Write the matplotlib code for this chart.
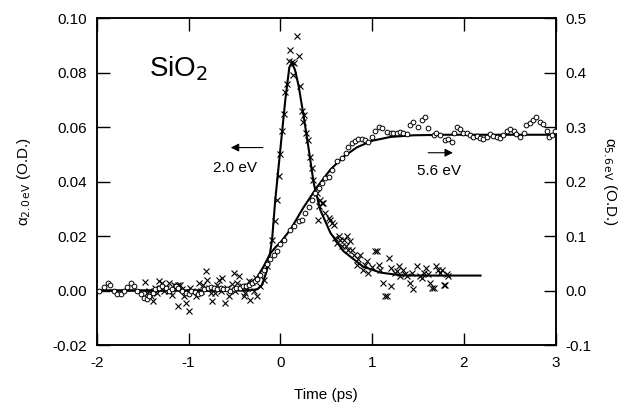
import matplotlib.pyplot as plt

plt.rcParams['font.family'] = ['Liberation Sans', 'DejaVu Sans']

# =========================
# DATA
# =========================

# 2.0 eV data points (crosses), left axis
t_20 = [-1.475, -1.45, -1.43, -1.41, -1.39, -1.36, -1.34, -1.32, -1.29, -1.27,
        -1.25, -1.21, -1.21, -1.18, -1.16, -1.14, -1.12, -1.11, -1.09, -1.07,
        -1.05, -1.03, -1.0, -0.98, -0.96, -0.92, -0.89, -0.86, -0.84, -0.815,
        -0.80, -0.78, -0.76, -0.74, -0.71, -0.69, -0.67, -0.65, -0.63, -0.60,
        -0.58, -0.56, -0.53, -0.51, -0.49, -0.47, -0.45, -0.42, -0.40, -0.38,
        -0.36, -0.345, -0.33, -0.31, -0.29, -0.27, -0.25, -0.22, -0.18, -0.14,
        -0.09, -0.054, -0.036, -0.018, 0.0, 0.018, 0.036, 0.054, 0.073, 0.09,
        0.11, 0.127, 0.138, 0.145, 0.18, 0.2, 0.21, 0.235, 0.247, 0.254,
        0.283, 0.30, 0.326, 0.345, 0.36, 0.40, 0.405, 0.417, 0.435, 0.45,
        0.47, 0.49, 0.525, 0.545, 0.56, 0.58, 0.60, 0.617, 0.634, 0.65,
        0.67, 0.69, 0.71, 0.725, 0.74, 0.76, 0.78, 0.80, 0.83, 0.85,
        0.87, 0.905, 0.92, 0.94, 0.96, 1.0, 1.03, 1.05, 1.07, 1.09,
        1.12, 1.14, 1.16, 1.18, 1.2, 1.21, 1.25, 1.27, 1.29, 1.30,
        1.34, 1.36, 1.38, 1.41, 1.43, 1.45, 1.49, 1.52, 1.54, 1.56,
        1.59, 1.61, 1.63, 1.65, 1.67, 1.70, 1.72, 1.74, 1.76, 1.78,
        1.79, 1.81, 1.83]
a_20 = [0.0032, -0.001, 0.0, -0.002, -0.004, 0.001, -0.0008, 0.0034, 0.0028, 0.0,
        0.001, 0.0, 0.0028, -0.0015, 0.002, 0.0016, -0.0058, 0.0022, 0.0022, 0.0005,
        -0.002, -0.0045, -0.0076, 0.001, 0.0, -0.002, 0.0028, 0.0, 0.002, 0.0071,
        0.004, 0.001, -0.001, -0.004, -0.0008, 0.002, 0.004, 0.0, 0.0047, -0.0045,
        0.001, -0.002, 0.0025, 0.0065, 0.0, 0.0028, 0.0052, 0.0016, -0.002, -0.0008,
        0.001, 0.0034, -0.0033, 0.003, 0.0, 0.0045, -0.002, 0.0015, 0.004, 0.009,
        0.0187, 0.0254, 0.0334, 0.042, 0.050, 0.0585, 0.065, 0.073, 0.076, 0.0842,
        0.0884, 0.084, 0.079, 0.0836, 0.0933, 0.086, 0.075, 0.066, 0.062, 0.0646,
        0.058, 0.0554, 0.049, 0.045, 0.0407, 0.0358, 0.026, 0.031, 0.0334, 0.032,
        0.032, 0.0285, 0.0267, 0.026, 0.0248, 0.0242, 0.0193, 0.0175, 0.020, 0.0185,
        0.0163, 0.0187, 0.0165, 0.020, 0.015, 0.0181, 0.015, 0.0132, 0.0095, 0.0115,
        0.0132, 0.0077, 0.0095, 0.0107, 0.0065, 0.0085, 0.0144, 0.0144, 0.0095, 0.0077,
        0.0028, -0.002, -0.002, 0.012, 0.0083, 0.0016, 0.0065, 0.0072, 0.0089, 0.0052,
        0.0077, 0.006, 0.0052, 0.0028, 0.0065, 0.0004, 0.0089, 0.0052, 0.0045, 0.0065,
        0.0083, 0.006, 0.0028, 0.001, 0.001, 0.0089, 0.0077, 0.0065, 0.0075, 0.0022,
        0.0022, 0.006, 0.0052]

# 5.6 eV data points (open symbols), right axis
t_56 = [-1.98, -1.92, -1.88, -1.85, -1.81, -1.78, -1.74, -1.70, -1.67, -1.63,
        -1.59, -1.56, -1.52, -1.48, -1.45, -1.43, -1.39, -1.36, -1.32, -1.29,
        -1.25, -1.21, -1.18, -1.14, -1.11, -1.07, -1.03, -1.0, -0.97, -0.93,
        -0.90, -0.86, -0.83, -0.79, -0.76, -0.72, -0.69, -0.65, -0.62, -0.58,
        -0.55, -0.51, -0.48, -0.44, -0.41, -0.37, -0.34, -0.31, -0.28, -0.25,
        -0.22, -0.18, -0.145, -0.11, -0.07, -0.036, 0.0, 0.036, 0.11, 0.145,
        0.2, 0.235, 0.27, 0.31, 0.345, 0.38, 0.42, 0.45, 0.49, 0.525,
        0.56, 0.62, 0.67, 0.71, 0.74, 0.78, 0.815, 0.85, 0.89, 0.92,
        0.96, 1.0, 1.03, 1.07, 1.11, 1.16, 1.2, 1.23, 1.27, 1.30,
        1.34, 1.38, 1.41, 1.45, 1.50, 1.54, 1.58, 1.61, 1.67, 1.70,
        1.74, 1.79, 1.83, 1.87, 1.89, 1.92, 1.96, 1.99, 2.03, 2.07,
        2.10, 2.14, 2.17, 2.21, 2.25, 2.28, 2.32, 2.36, 2.39, 2.43,
        2.47, 2.50, 2.54, 2.57, 2.61, 2.65, 2.68, 2.72, 2.75, 2.79,
        2.83, 2.86, 2.90, 2.93, 2.96, 2.99]
a_56 = [0.0, 0.007, 0.013, 0.01, 0.0, -0.006, -0.006, 0.0, 0.007, 0.013,
        0.008, 0.0, -0.007, -0.013, -0.016, -0.01, -0.004, 0.002, 0.005, 0.008,
        0.004, 0.0, 0.002, 0.008, 0.005, 0.0, -0.005, -0.007, 0.0, -0.003,
        -0.006, -0.004, 0.002, 0.004, 0.006, 0.004, 0.003, 0.005, 0.002, 0.003,
        0.0, 0.002, 0.004, 0.005, 0.008, 0.009, 0.011, 0.014, 0.017, 0.021,
        0.028, 0.038, 0.048, 0.057, 0.066, 0.072, 0.085, 0.093, 0.112, 0.118,
        0.127, 0.13, 0.143, 0.154, 0.167, 0.179, 0.188, 0.198, 0.207, 0.209,
        0.221, 0.237, 0.243, 0.252, 0.264, 0.270, 0.275, 0.278, 0.279, 0.276,
        0.273, 0.282, 0.293, 0.30, 0.298, 0.291, 0.29, 0.29, 0.29, 0.291,
        0.289, 0.287, 0.304, 0.31, 0.30, 0.313, 0.318, 0.298, 0.286, 0.29,
        0.286, 0.276, 0.278, 0.273, 0.289, 0.30, 0.296, 0.289, 0.29, 0.286,
        0.282, 0.284, 0.28, 0.278, 0.282, 0.287, 0.284, 0.282, 0.28, 0.286,
        0.292, 0.296, 0.293, 0.287, 0.281, 0.289, 0.304, 0.308, 0.313, 0.318,
        0.31, 0.306, 0.292, 0.282, 0.286, 0.292]

# fitted curves
fit_t_20 = [-2.0, -0.35, -0.25, -0.2, -0.15, -0.12, -0.09, -0.055, 0.0, 0.054,
            0.098, 0.127, 0.16, 0.2, 0.254, 0.31, 0.363, 0.436, 0.545, 0.686,
            0.9, 1.09, 1.31, 1.5, 2.18]
fit_a_20 = [0.0, 0.0, 0.0005, 0.002, 0.007, 0.012, 0.0187, 0.0334, 0.0518, 0.070,
            0.082, 0.0835, 0.081, 0.075, 0.064, 0.0517, 0.0395, 0.0295, 0.0212, 0.0145,
            0.0088, 0.0066, 0.0056, 0.0055, 0.0055]

fit_t_56 = [-2.0, -0.5, -0.4, -0.33, -0.25, -0.18, -0.11, -0.05, 0.0, 0.11,
            0.25, 0.4, 0.545, 0.69, 0.835, 1.0, 1.2, 1.45, 1.8, 3.0]
fit_a_56 = [0.0, 0.0, 0.004, 0.012, 0.025, 0.045, 0.068, 0.08, 0.088, 0.112,
            0.152, 0.19, 0.222, 0.246, 0.263, 0.275, 0.282, 0.285, 0.286, 0.286]

x_ticks = [-2, -1, 0, 1, 2, 3]
left_ticks = [-0.02, 0.0, 0.02, 0.04, 0.06, 0.08, 0.10]
right_ticks = [-0.1, 0.0, 0.1, 0.2, 0.3, 0.4, 0.5]

# =========================
# PLOT
# =========================

fig = plt.figure(figsize=(6.28, 4.04), dpi=100)
ax = fig.add_axes([0.154, 0.146, 0.731, 0.809])
ax2 = ax.twinx()

ax.plot(fit_t_20, fit_a_20, color="black", lw=1.5, zorder=3)
ax.plot(t_20, a_20, ls="none", marker="x", ms=4.2, mew=0.8, color="black", zorder=4)

ax2.plot(fit_t_56, fit_a_56, color="black", lw=1.5, zorder=3)
ax2.plot(t_56, a_56, ls="none", marker="o", ms=3.4, mew=0.7, mfc="white",
         mec="black", zorder=4)

ax.set_xlim(-2, 3)
ax.set_ylim(-0.02, 0.10)
ax2.set_ylim(-0.1, 0.5)

ax.set_xticks(x_ticks)
ax.set_xticklabels([str(v) for v in x_ticks])
ax.set_yticks(left_ticks)
ax.set_yticklabels([f"{v:.2f}" for v in left_ticks])
ax2.set_yticks(right_ticks)
ax2.set_yticklabels([f"{v:.1f}" for v in right_ticks])

ax.tick_params(axis="x", direction="in", length=9, width=1, top=True,
               labelsize=11, pad=8)
ax.tick_params(axis="y", direction="in", length=9, width=1, labelsize=11, pad=7)
ax2.tick_params(axis="y", direction="in", length=9, width=1, labelsize=11, pad=7)

for a in (ax, ax2):
    for s in a.spines.values():
        s.set_linewidth(1.1)

ax.set_xlabel("Time (ps)", fontsize=11, labelpad=13)
ax.set_ylabel("α$_{2.0\\,\\mathrm{eV}}$ (O.D.)", fontsize=11, labelpad=14)
ax2.set_ylabel("α$_{5.6\\,\\mathrm{eV}}$ (O.D.)", fontsize=11,
               rotation=270, labelpad=20)

ax.text(-1.43, 0.0815, r"SiO$_2$", fontsize=20, ha="left", va="center")

ax.annotate("", xy=(-0.57, 0.0525), xytext=(-0.16, 0.0525),
            arrowprops=dict(arrowstyle="-|>", color="black", lw=0.8,
                            mutation_scale=12))
ax.text(-0.73, 0.045, "2.0 eV", fontsize=11, ha="left", va="center")

ax2.annotate("", xy=(1.91, 0.253), xytext=(1.58, 0.253),
             arrowprops=dict(arrowstyle="-|>", color="black", lw=0.8,
                             mutation_scale=12))
ax2.text(1.49, 0.22, "5.6 eV", fontsize=11, ha="left", va="center")

plt.savefig("out.png", dpi=100)
plt.close()
